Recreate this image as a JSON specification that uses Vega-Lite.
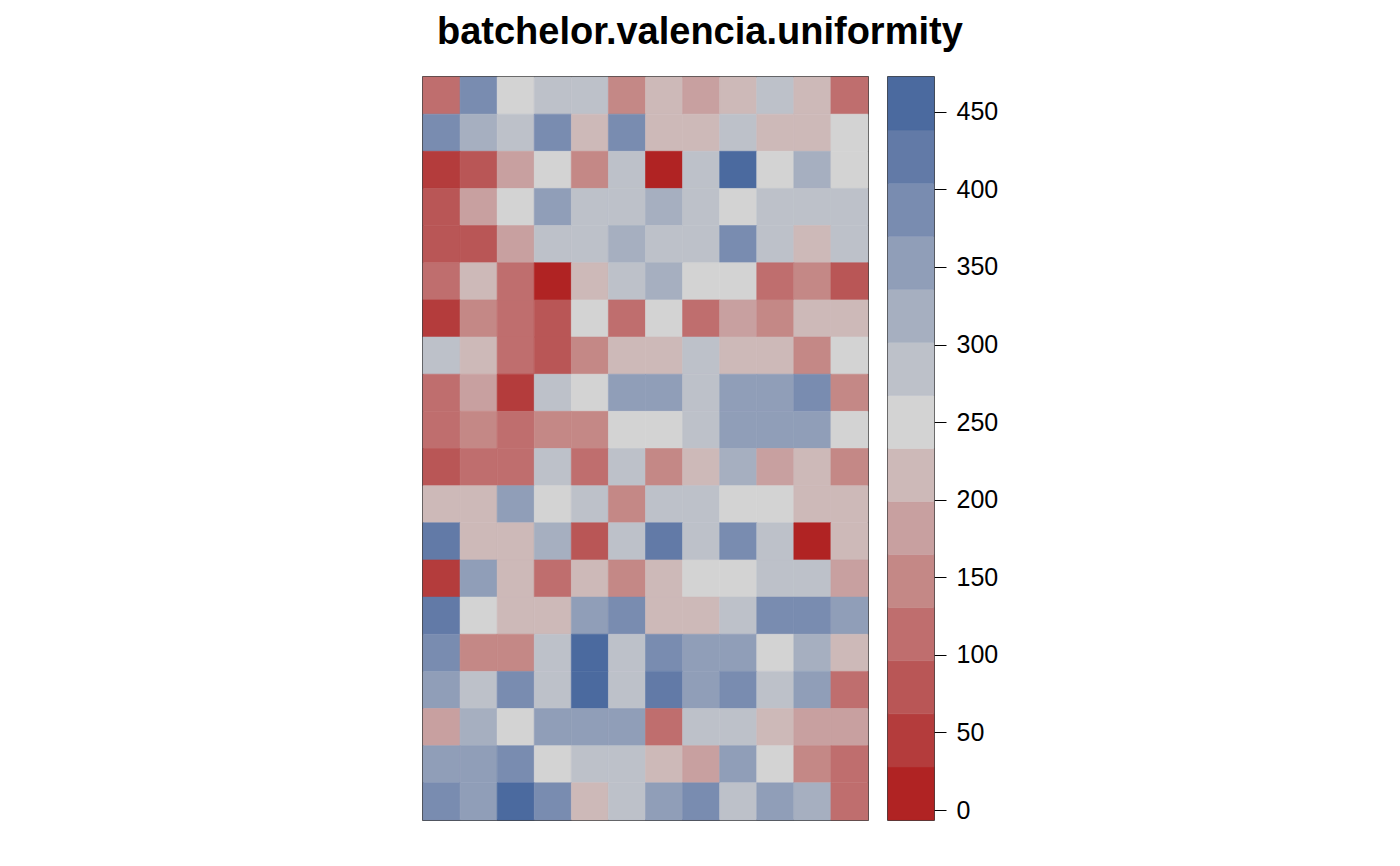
{
  "$schema": "https://vega.github.io/schema/vega-lite/v6.json",
  "title": {"text": "batchelor.valencia.uniformity", "fontSize": 38, "font": "Liberation Sans", "fontWeight": "bold", "color": "black", "anchor": "start", "dx": 15, "offset": 24},
  "padding": {"left": 421, "top": 13, "right": 0, "bottom": 0},
  "background": "white",
  "spacing": 16,
  "config": {"view": {"stroke": "black", "strokeWidth": 1.5}},
  "hconcat": [
    {
      "width": 445,
      "height": 743,
      "data": {"values": [
        {"r":1,"c":1,"v":113},{"r":1,"c":2,"v":387},{"r":1,"c":3,"v":250},{"r":1,"c":4,"v":284},{"r":1,"c":5,"v":284},{"r":1,"c":6,"v":148},{"r":1,"c":7,"v":216},{"r":1,"c":8,"v":182},{"r":1,"c":9,"v":216},{"r":1,"c":10,"v":284},{"r":1,"c":11,"v":216},{"r":1,"c":12,"v":113},
        {"r":2,"c":1,"v":387},{"r":2,"c":2,"v":319},{"r":2,"c":3,"v":284},{"r":2,"c":4,"v":387},{"r":2,"c":5,"v":216},{"r":2,"c":6,"v":387},{"r":2,"c":7,"v":216},{"r":2,"c":8,"v":216},{"r":2,"c":9,"v":284},{"r":2,"c":10,"v":216},{"r":2,"c":11,"v":216},{"r":2,"c":12,"v":250},
        {"r":3,"c":1,"v":45},{"r":3,"c":2,"v":79},{"r":3,"c":3,"v":182},{"r":3,"c":4,"v":250},{"r":3,"c":5,"v":148},{"r":3,"c":6,"v":284},{"r":3,"c":7,"v":11},{"r":3,"c":8,"v":284},{"r":3,"c":9,"v":455},{"r":3,"c":10,"v":250},{"r":3,"c":11,"v":319},{"r":3,"c":12,"v":250},
        {"r":4,"c":1,"v":79},{"r":4,"c":2,"v":182},{"r":4,"c":3,"v":250},{"r":4,"c":4,"v":353},{"r":4,"c":5,"v":284},{"r":4,"c":6,"v":284},{"r":4,"c":7,"v":319},{"r":4,"c":8,"v":284},{"r":4,"c":9,"v":250},{"r":4,"c":10,"v":284},{"r":4,"c":11,"v":284},{"r":4,"c":12,"v":284},
        {"r":5,"c":1,"v":79},{"r":5,"c":2,"v":79},{"r":5,"c":3,"v":182},{"r":5,"c":4,"v":284},{"r":5,"c":5,"v":284},{"r":5,"c":6,"v":319},{"r":5,"c":7,"v":284},{"r":5,"c":8,"v":284},{"r":5,"c":9,"v":387},{"r":5,"c":10,"v":284},{"r":5,"c":11,"v":216},{"r":5,"c":12,"v":284},
        {"r":6,"c":1,"v":113},{"r":6,"c":2,"v":216},{"r":6,"c":3,"v":113},{"r":6,"c":4,"v":11},{"r":6,"c":5,"v":216},{"r":6,"c":6,"v":284},{"r":6,"c":7,"v":319},{"r":6,"c":8,"v":250},{"r":6,"c":9,"v":250},{"r":6,"c":10,"v":113},{"r":6,"c":11,"v":148},{"r":6,"c":12,"v":79},
        {"r":7,"c":1,"v":45},{"r":7,"c":2,"v":148},{"r":7,"c":3,"v":113},{"r":7,"c":4,"v":79},{"r":7,"c":5,"v":250},{"r":7,"c":6,"v":113},{"r":7,"c":7,"v":250},{"r":7,"c":8,"v":113},{"r":7,"c":9,"v":182},{"r":7,"c":10,"v":148},{"r":7,"c":11,"v":216},{"r":7,"c":12,"v":216},
        {"r":8,"c":1,"v":284},{"r":8,"c":2,"v":216},{"r":8,"c":3,"v":113},{"r":8,"c":4,"v":79},{"r":8,"c":5,"v":148},{"r":8,"c":6,"v":216},{"r":8,"c":7,"v":216},{"r":8,"c":8,"v":284},{"r":8,"c":9,"v":216},{"r":8,"c":10,"v":216},{"r":8,"c":11,"v":148},{"r":8,"c":12,"v":250},
        {"r":9,"c":1,"v":113},{"r":9,"c":2,"v":182},{"r":9,"c":3,"v":45},{"r":9,"c":4,"v":284},{"r":9,"c":5,"v":250},{"r":9,"c":6,"v":353},{"r":9,"c":7,"v":353},{"r":9,"c":8,"v":284},{"r":9,"c":9,"v":353},{"r":9,"c":10,"v":353},{"r":9,"c":11,"v":387},{"r":9,"c":12,"v":148},
        {"r":10,"c":1,"v":113},{"r":10,"c":2,"v":148},{"r":10,"c":3,"v":113},{"r":10,"c":4,"v":148},{"r":10,"c":5,"v":148},{"r":10,"c":6,"v":250},{"r":10,"c":7,"v":250},{"r":10,"c":8,"v":284},{"r":10,"c":9,"v":353},{"r":10,"c":10,"v":353},{"r":10,"c":11,"v":353},{"r":10,"c":12,"v":250},
        {"r":11,"c":1,"v":79},{"r":11,"c":2,"v":113},{"r":11,"c":3,"v":113},{"r":11,"c":4,"v":284},{"r":11,"c":5,"v":113},{"r":11,"c":6,"v":284},{"r":11,"c":7,"v":148},{"r":11,"c":8,"v":216},{"r":11,"c":9,"v":319},{"r":11,"c":10,"v":182},{"r":11,"c":11,"v":216},{"r":11,"c":12,"v":148},
        {"r":12,"c":1,"v":216},{"r":12,"c":2,"v":216},{"r":12,"c":3,"v":353},{"r":12,"c":4,"v":250},{"r":12,"c":5,"v":284},{"r":12,"c":6,"v":148},{"r":12,"c":7,"v":284},{"r":12,"c":8,"v":284},{"r":12,"c":9,"v":250},{"r":12,"c":10,"v":250},{"r":12,"c":11,"v":216},{"r":12,"c":12,"v":216},
        {"r":13,"c":1,"v":421},{"r":13,"c":2,"v":216},{"r":13,"c":3,"v":216},{"r":13,"c":4,"v":319},{"r":13,"c":5,"v":79},{"r":13,"c":6,"v":284},{"r":13,"c":7,"v":421},{"r":13,"c":8,"v":284},{"r":13,"c":9,"v":387},{"r":13,"c":10,"v":284},{"r":13,"c":11,"v":11},{"r":13,"c":12,"v":216},
        {"r":14,"c":1,"v":45},{"r":14,"c":2,"v":353},{"r":14,"c":3,"v":216},{"r":14,"c":4,"v":113},{"r":14,"c":5,"v":216},{"r":14,"c":6,"v":148},{"r":14,"c":7,"v":216},{"r":14,"c":8,"v":250},{"r":14,"c":9,"v":250},{"r":14,"c":10,"v":284},{"r":14,"c":11,"v":284},{"r":14,"c":12,"v":182},
        {"r":15,"c":1,"v":421},{"r":15,"c":2,"v":250},{"r":15,"c":3,"v":216},{"r":15,"c":4,"v":216},{"r":15,"c":5,"v":353},{"r":15,"c":6,"v":387},{"r":15,"c":7,"v":216},{"r":15,"c":8,"v":216},{"r":15,"c":9,"v":284},{"r":15,"c":10,"v":387},{"r":15,"c":11,"v":387},{"r":15,"c":12,"v":353},
        {"r":16,"c":1,"v":387},{"r":16,"c":2,"v":148},{"r":16,"c":3,"v":148},{"r":16,"c":4,"v":284},{"r":16,"c":5,"v":455},{"r":16,"c":6,"v":284},{"r":16,"c":7,"v":387},{"r":16,"c":8,"v":353},{"r":16,"c":9,"v":353},{"r":16,"c":10,"v":250},{"r":16,"c":11,"v":319},{"r":16,"c":12,"v":216},
        {"r":17,"c":1,"v":353},{"r":17,"c":2,"v":284},{"r":17,"c":3,"v":387},{"r":17,"c":4,"v":284},{"r":17,"c":5,"v":455},{"r":17,"c":6,"v":284},{"r":17,"c":7,"v":421},{"r":17,"c":8,"v":353},{"r":17,"c":9,"v":387},{"r":17,"c":10,"v":284},{"r":17,"c":11,"v":353},{"r":17,"c":12,"v":113},
        {"r":18,"c":1,"v":182},{"r":18,"c":2,"v":319},{"r":18,"c":3,"v":250},{"r":18,"c":4,"v":353},{"r":18,"c":5,"v":353},{"r":18,"c":6,"v":353},{"r":18,"c":7,"v":113},{"r":18,"c":8,"v":284},{"r":18,"c":9,"v":284},{"r":18,"c":10,"v":216},{"r":18,"c":11,"v":182},{"r":18,"c":12,"v":182},
        {"r":19,"c":1,"v":353},{"r":19,"c":2,"v":353},{"r":19,"c":3,"v":387},{"r":19,"c":4,"v":250},{"r":19,"c":5,"v":284},{"r":19,"c":6,"v":284},{"r":19,"c":7,"v":216},{"r":19,"c":8,"v":182},{"r":19,"c":9,"v":353},{"r":19,"c":10,"v":250},{"r":19,"c":11,"v":148},{"r":19,"c":12,"v":113},
        {"r":20,"c":1,"v":387},{"r":20,"c":2,"v":353},{"r":20,"c":3,"v":455},{"r":20,"c":4,"v":387},{"r":20,"c":5,"v":216},{"r":20,"c":6,"v":284},{"r":20,"c":7,"v":353},{"r":20,"c":8,"v":387},{"r":20,"c":9,"v":284},{"r":20,"c":10,"v":353},{"r":20,"c":11,"v":319},{"r":20,"c":12,"v":113}
      ]},
      "mark": {"type": "rect", "strokeWidth": 0.6},
      "encoding": {
        "x": {"field": "c", "type": "ordinal", "axis": null, "scale": {"paddingInner": 0, "paddingOuter": 0}},
        "y": {"field": "r", "type": "ordinal", "axis": null, "scale": {"paddingInner": 0, "paddingOuter": 0}},
        "color": {"field": "v", "type": "quantitative", "legend": null,
          "scale": {"type": "threshold",
            "domain": [27.8, 62, 96.2, 130.4, 164.6, 198.8, 233, 267.2, 301.4, 335.6, 369.8, 404, 438.2],
            "range": ["#B02323", "#B43C3C", "#B95656", "#BF6E6E", "#C48886", "#C8A0A0", "#CDB9B8", "#D3D3D3", "#BDC1C9", "#A6AFC0", "#909EB8", "#798CB0", "#627AA7", "#4B6A9F"]}},
        "stroke": {"field": "v", "type": "quantitative", "legend": null,
          "scale": {"type": "threshold",
            "domain": [27.8, 62, 96.2, 130.4, 164.6, 198.8, 233, 267.2, 301.4, 335.6, 369.8, 404, 438.2],
            "range": ["#B02323", "#B43C3C", "#B95656", "#BF6E6E", "#C48886", "#C8A0A0", "#CDB9B8", "#D3D3D3", "#BDC1C9", "#A6AFC0", "#909EB8", "#798CB0", "#627AA7", "#4B6A9F"]}}
      }
    },
    {
      "width": 46,
      "height": 743,
      "data": {"values": [
        {"lo": -6.4, "hi": 27.8, "v": 11},
        {"lo": 27.8, "hi": 62, "v": 45},
        {"lo": 62, "hi": 96.2, "v": 79},
        {"lo": 96.2, "hi": 130.4, "v": 113},
        {"lo": 130.4, "hi": 164.6, "v": 148},
        {"lo": 164.6, "hi": 198.8, "v": 182},
        {"lo": 198.8, "hi": 233, "v": 216},
        {"lo": 233, "hi": 267.2, "v": 250},
        {"lo": 267.2, "hi": 301.4, "v": 284},
        {"lo": 301.4, "hi": 335.6, "v": 319},
        {"lo": 335.6, "hi": 369.8, "v": 353},
        {"lo": 369.8, "hi": 404, "v": 387},
        {"lo": 404, "hi": 438.2, "v": 421},
        {"lo": 438.2, "hi": 472.4, "v": 455}
      ]},
      "mark": {"type": "rect", "strokeWidth": 0.6},
      "encoding": {
        "y": {"field": "lo", "type": "quantitative",
          "scale": {"domain": [-6.4, 472.4], "nice": false, "zero": false},
          "axis": {"orient": "right", "values": [0, 50, 100, 150, 200, 250, 300, 350, 400, 450], "title": null, "domain": false, "grid": false,
            "tickSize": 12, "tickColor": "black", "tickWidth": 1, "labelPadding": 10, "labelFontSize": 25, "labelFont": "Liberation Sans", "labelColor": "black", "labelFlush": false, "labelOverlap": false}},
        "y2": {"field": "hi"},
        "color": {"field": "v", "type": "quantitative", "legend": null,
          "scale": {"type": "threshold",
            "domain": [27.8, 62, 96.2, 130.4, 164.6, 198.8, 233, 267.2, 301.4, 335.6, 369.8, 404, 438.2],
            "range": ["#B02323", "#B43C3C", "#B95656", "#BF6E6E", "#C48886", "#C8A0A0", "#CDB9B8", "#D3D3D3", "#BDC1C9", "#A6AFC0", "#909EB8", "#798CB0", "#627AA7", "#4B6A9F"]}},
        "stroke": {"field": "v", "type": "quantitative", "legend": null,
          "scale": {"type": "threshold",
            "domain": [27.8, 62, 96.2, 130.4, 164.6, 198.8, 233, 267.2, 301.4, 335.6, 369.8, 404, 438.2],
            "range": ["#B02323", "#B43C3C", "#B95656", "#BF6E6E", "#C48886", "#C8A0A0", "#CDB9B8", "#D3D3D3", "#BDC1C9", "#A6AFC0", "#909EB8", "#798CB0", "#627AA7", "#4B6A9F"]}}
      }
    }
  ]
}
